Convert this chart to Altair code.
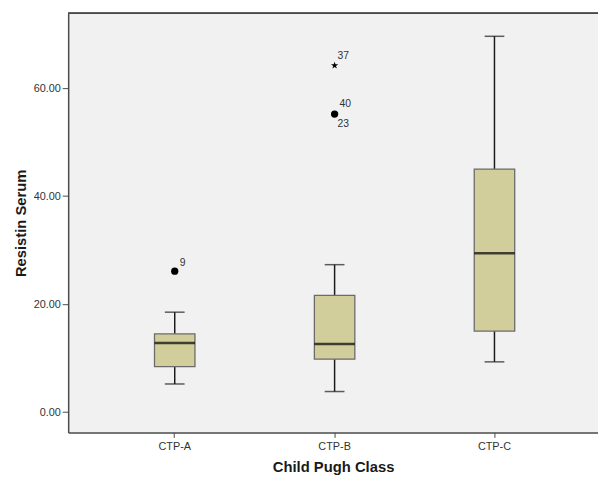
import altair as alt
import pandas as pd

# ---- data ----
groups = ["CTP-A", "CTP-B", "CTP-C"]
lower_whisker = [5.2, 3.8, 9.3]
q1 = [8.4, 9.8, 15.0]
median = [12.8, 12.6, 29.4]
q3 = [14.5, 21.6, 45.0]
upper_whisker = [18.5, 27.3, 69.6]

outlier_group = ["CTP-A", "CTP-B", "CTP-B"]
outlier_value = [26.1, 55.2, 64.2]
outlier_kind = ["outlier", "outlier", "extreme"]

label_group = ["CTP-A", "CTP-B", "CTP-B", "CTP-B"]
label_value = [26.1, 55.2, 55.2, 64.2]
label_text = ["9", "40", "23", "37"]

y_ticks = [0, 20, 40, 60]

boxes = pd.DataFrame({"group": groups, "low": lower_whisker, "q1": q1,
                      "med": median, "q3": q3, "high": upper_whisker})
outliers = pd.DataFrame({"group": outlier_group, "value": outlier_value,
                         "kind": outlier_kind})
labels = pd.DataFrame({"group": label_group, "value": label_value,
                       "label": label_text})

FONT = "Liberation Sans"
STAR = ("M0,-1L0.2245,-0.309L0.951,-0.309L0.363,0.118L0.588,0.809L0,0.382"
        "L-0.588,0.809L-0.363,0.118L-0.951,-0.309L-0.2245,-0.309Z")

xscale = alt.Scale(domain=groups, paddingInner=0, paddingOuter=0.157, align=0.53)
yscale = alt.Scale(domain=[-3.78, 73.89], nice=False, zero=False)

x_enc = alt.X("group:N", scale=xscale, sort=groups,
              axis=alt.Axis(title="Child Pugh Class", labelAngle=0,
                            tickSize=5, labelPadding=3, titlePadding=9,
                            domainColor="#4a4a4a", domainWidth=1.5,
                            tickColor="#4a4a4a", labelColor="#333333",
                            labelFontSize=11, labelFont=FONT,
                            titleFont=FONT, titleFontSize=15,
                            titleFontWeight="bold", titleColor="#1a1a1a"))

y_axis = alt.Axis(title="Resistin Serum", values=y_ticks, format=".2f",
                  grid=False, tickSize=6, labelPadding=2, titlePadding=5,
                  domainColor="#4a4a4a", domainWidth=1.5,
                  tickColor="#4a4a4a", labelColor="#333333",
                  labelFontSize=11, labelFont=FONT,
                  titleFont=FONT, titleFontSize=15, titleFontWeight="bold",
                  titleColor="#1a1a1a")

base = alt.Chart(boxes)

whisker = base.mark_rule(color="#1a1a1a", strokeWidth=1.5).encode(
    x=x_enc,
    y=alt.Y("low:Q", scale=yscale, axis=y_axis),
    y2="high:Q",
)

box = base.mark_bar(size=41, color="#d2ce9b", stroke="#6b6b6b",
                    strokeWidth=1.3).encode(
    x=alt.X("group:N", scale=xscale, sort=groups),
    y=alt.Y("q1:Q", scale=yscale),
    y2="q3:Q",
)

med = base.mark_tick(size=41, thickness=2.5, color="#000000").encode(
    x=alt.X("group:N", scale=xscale, sort=groups),
    y=alt.Y("med:Q", scale=yscale),
)

cap_low = base.mark_tick(size=20, thickness=1.5, color="#1a1a1a").encode(
    x=alt.X("group:N", scale=xscale, sort=groups),
    y=alt.Y("low:Q", scale=yscale),
)
cap_high = base.mark_tick(size=20, thickness=1.5, color="#1a1a1a").encode(
    x=alt.X("group:N", scale=xscale, sort=groups),
    y=alt.Y("high:Q", scale=yscale),
)

pts = alt.Chart(outliers).mark_point(filled=True, opacity=1, color="#000000").encode(
    x=alt.X("group:N", scale=xscale, sort=groups),
    y=alt.Y("value:Q", scale=yscale),
    shape=alt.Shape("kind:N", scale=alt.Scale(domain=["outlier", "extreme"],
                                              range=["circle", STAR]),
                    legend=None),
    size=alt.Size("kind:N", scale=alt.Scale(domain=["outlier", "extreme"],
                                            range=[55, 60]),
                  legend=None),
)

offsets = {"9": (5, -8), "40": (5, -10), "23": (3, 10), "37": (3, -10)}
text_layers = []
for lab, (ddx, ddy) in offsets.items():
    text_layers.append(
        alt.Chart(labels).transform_filter(alt.datum.label == lab)
        .mark_text(align="left", baseline="middle", dx=ddx, dy=ddy,
                   fontSize=10.5, font=FONT, color="#333333")
        .encode(x=alt.X("group:N", scale=xscale, sort=groups),
                y=alt.Y("value:Q", scale=yscale),
                text="label:N")
    )

top_border = alt.Chart(boxes).mark_rule(color="#4a4a4a", strokeWidth=1.5).encode(
    x=alt.value(0), x2=alt.value(537), y=alt.value(0)
)

chart = alt.layer(whisker, box, med, cap_low, cap_high, pts, *text_layers,
                  top_border).properties(
    width=537, height=425,
    autosize=alt.AutoSizeParams(type="none"),
    padding={"left": 61, "top": 2, "right": 0, "bottom": 47},
    background="white",
).configure_view(fill="#f1f1f1", stroke=None)

chart.save("out.html", embed_options={"renderer": "svg", "actions": False})
